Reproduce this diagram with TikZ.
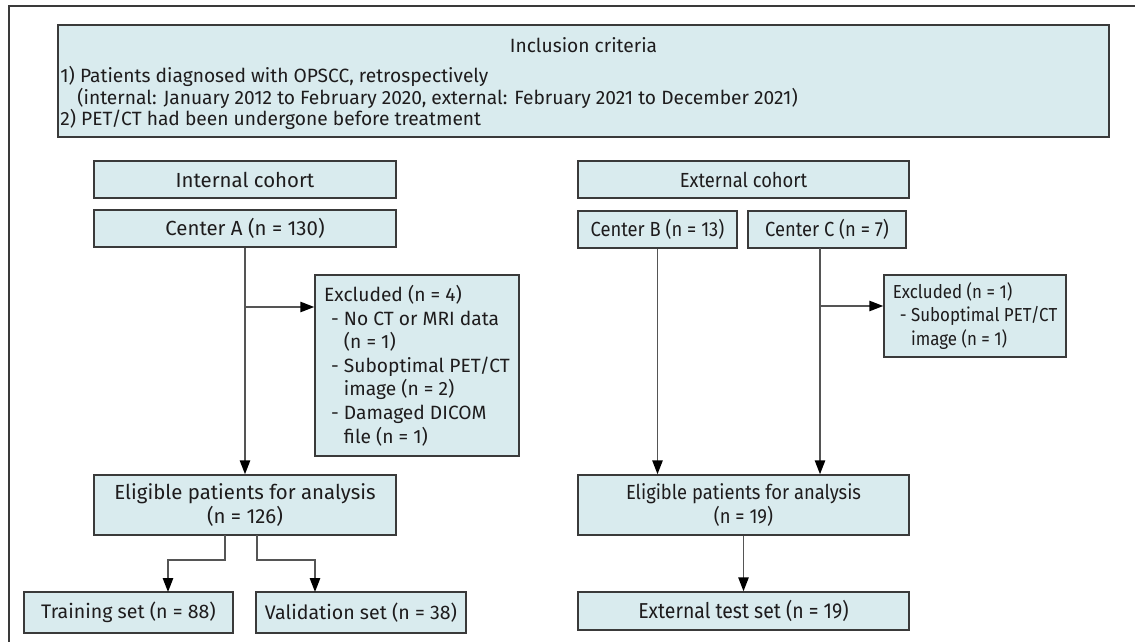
\documentclass[tikz,border=0pt]{standalone}
\usepackage{fontspec}
\setmainfont{Fira Sans}
\newfontfamily\extfont[FakeStretch=0.9]{Fira Sans}
\usetikzlibrary{arrows.meta}
\definecolor{boxfill}{HTML}{D9EBEE}
\definecolor{boxline}{HTML}{3A3A3A}
\definecolor{conn}{HTML}{555555}
\definecolor{txt}{HTML}{1E1C1D}
\newcommand{\dashitem}{\hspace*{3.5pt}- }
\newcommand{\contitem}{\hspace*{3.5pt}\phantom{- }}
\begin{document}
\begin{tikzpicture}[x=0.5pt,y=-0.5pt,
  box/.style={draw=boxline, line width=0.75pt, fill=boxfill, inner sep=0pt, text=txt, align=center, font=\fontsize{10.2}{11.6}\selectfont},
  setbox/.style={box, font=\fontsize{9.8}{11.6}\selectfont},
  extbox/.style={box, font=\extfont\fontsize{10.2}{11.6}\selectfont},
  exbox/.style={box, align=left, font=\fontsize{9.6}{11.8}\selectfont},
  lbl/.style={text=txt, inner sep=0pt, font=\fontsize{9.6}{11.5}\selectfont},
  arr/.style={draw=conn, line width=0.8pt, -{Triangle[length=7pt,width=5.2pt,color=black]}}]
\useasboundingbox (0,0) rectangle (1135,642);
\draw[line width=1pt, draw=boxline] (9,642) -- (9,6) -- (1135,6);

% inclusion criteria
\node[box, minimum width=525.5pt, minimum height=56pt] (incl) at (583.5,81) {};
\node[lbl] (inclT) at (583.5,45) {Inclusion criteria};
\node[lbl, anchor=west] (inc1) at (60,76) {1) Patients diagnosed with OPSCC, retrospectively};
\node[lbl, anchor=west] (inc2) at (77,98) {(internal: January 2012 to February 2020, external: February 2021 to December 2021)};
\node[lbl, anchor=west] (inc3) at (60,119) {2) PET/CT had been undergone before treatment};

% internal
\node[box, minimum width=151pt, minimum height=18.5pt] (ic) at (245,179.5) {Internal cohort};
\node[box, minimum width=151pt, minimum height=18.5pt] (cA) at (245,228.5) {Center A (n = 130)};
\node[exbox, minimum width=102pt, minimum height=90.5pt] (exA) at (417,365.5)
  {Excluded (n = 4)\\
   \dashitem No CT or MRI data\\
   \contitem (n = 1)\\
   \dashitem Suboptimal PET/CT\\
   \contitem image (n = 2)\\
   \dashitem Damaged DICOM\\
   \contitem file (n = 1)};
\node[box, minimum width=151pt, minimum height=30pt] (eA) at (245,505) {Eligible patients for analysis\\(n = 126)};
\node[setbox, minimum width=104.5pt, minimum height=20.5pt] (tr) at (128.5,612.5) {Training set (n = 88)};
\node[setbox, minimum width=105pt, minimum height=20.5pt] (va) at (361,612.5) {Validation set (n = 38)};

% external
\node[extbox, minimum width=165.5pt, minimum height=18.5pt] (ec) at (743.5,179.5) {External cohort};
\node[extbox, minimum width=79.5pt, minimum height=18.5pt] (cB) at (657.5,229.5) {Center B (n = 13)};
\node[extbox, minimum width=79pt, minimum height=18.5pt] (cC) at (827,229.5) {Center C (n = 7)};
\node[extbox, align=left, minimum width=91pt, minimum height=41pt, font=\extfont\fontsize{9.4}{11.8}\selectfont] (exC) at (975,316)
  {Excluded (n = 1)\\
   \dashitem Suboptimal PET/CT\\
   \contitem image (n = 1)};
\node[extbox, minimum width=165.5pt, minimum height=30pt] (eB) at (743.5,505) {Eligible patients for analysis\\(n = 19)};
\node[extbox, minimum width=165.5pt, minimum height=19pt, font=\extfont\fontsize{10.8}{11.6}\selectfont] (et) at (743.5,611) {External test set (n = 19)};

% connectors internal
\coordinate (jA) at (245,307);
\draw[arr] (cA.south) -- (cA.south |- eA.north);
\draw[arr] (jA) -- (jA -| exA.west);
\coordinate (tA) at (225,535);
\coordinate (tB) at (257,535);
\draw[arr] (tA) -- (225,560) -- (168,560) -- (168,592);
\draw[arr] (tB) -- (257,560) -- (315,560) -- (315,592);

% connectors external
\coordinate (cCs) at (820,248);
\coordinate (jC) at (820,306);
\draw[arr] (cB.south) -- (cB.south |- eB.north);
\draw[arr] (cCs) -- (cCs |- eB.north);
\draw[arr] (jC) -- (jC -| exC.west);
\draw[arr] (eB.south) -- (et.north);
\end{tikzpicture}
\end{document}
